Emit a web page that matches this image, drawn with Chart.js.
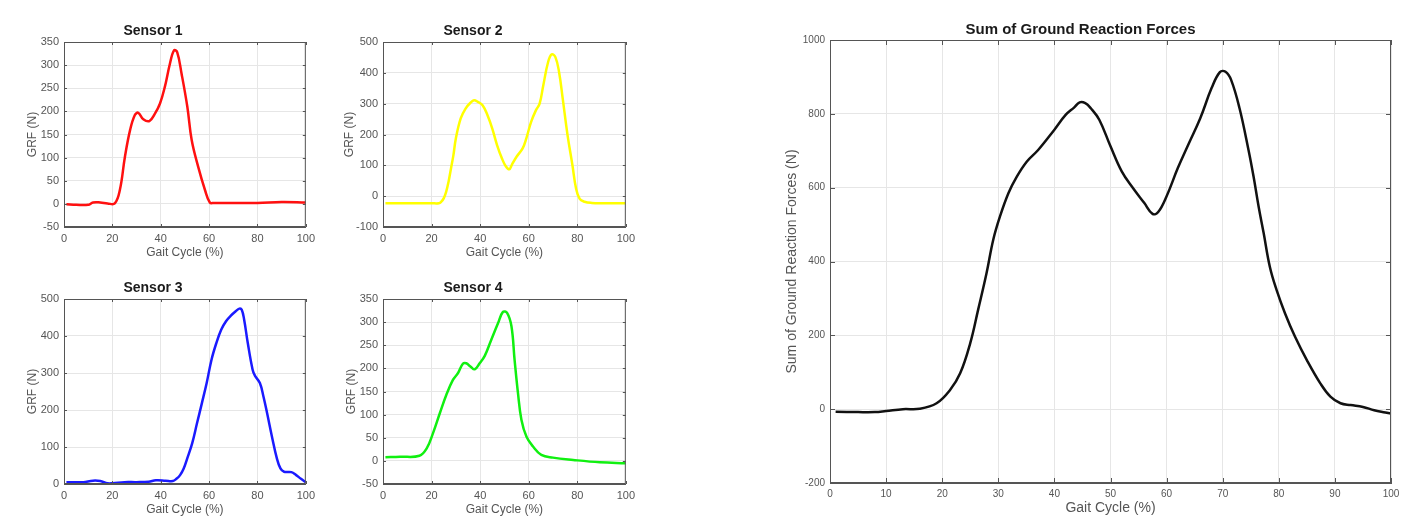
<!DOCTYPE html>
<html>
<head>
<meta charset="utf-8">
<script src="https://cdn.jsdelivr.net/npm/chart.js@4.4.1/dist/chart.umd.min.js"></script>
<style>
    body { margin: 0; background: #fff; width: 1419px; height: 517px; overflow: hidden; position: relative; }
    canvas { position: absolute; }
</style>
</head>
<body>
<canvas id="sensor1" width="320" height="250" style="left:0;top:15px"></canvas>
<canvas id="sensor2" width="320" height="250" style="left:320px;top:15px"></canvas>
<canvas id="sensor3" width="320" height="250" style="left:0;top:272px"></canvas>
<canvas id="sensor4" width="320" height="250" style="left:320px;top:272px"></canvas>
<canvas id="sumChart" width="649" height="504" style="left:770px;top:13px"></canvas>
<script>
// gait cycle (%) and GRF (N)
const sensor1X = [1, 5, 10, 12, 15, 18, 21, 23.1, 25.2, 27.3, 29.3, 30.7, 32.8, 35.3, 37.6, 39.7, 41.7, 43.8, 45.5, 46.8, 48.6, 51, 52.8, 55.5, 58.3, 60.3, 62, 70, 80, 90, 100];
const sensor1Y = [-1, -2, -2, 3, 3, 1, 1, 30, 102, 159, 192, 197, 183, 179, 195, 217, 253, 303, 332, 328, 282, 210, 138, 80, 30, 3, 2, 2, 2, 4, 3];

const sensor2X = [1, 10, 20, 23, 24, 25, 26, 27, 28, 29, 30, 32, 34, 36, 37.5, 39, 41, 43, 45, 47, 49, 50.5, 52, 53, 55, 57.5, 59, 61, 63, 64.5, 66, 68, 69.5, 71, 72.5, 74, 76, 78, 79.5, 81, 83, 86, 90, 100];
const sensor2Y = [-23, -23, -23, -23, -18, -7, 14, 47, 90, 133, 187, 252, 284, 303, 311, 306, 295, 263, 219, 165, 122, 98, 87, 101, 128, 155, 187, 241, 279, 300, 359, 435, 460, 451, 403, 317, 198, 101, 25, -9, -18, -22, -23, -23];

const sensor3X = [1, 5, 8, 12, 15, 18, 20, 25, 30, 35, 38, 42, 45, 46.5, 48, 49.5, 51, 53, 55, 57, 59, 61, 63, 65, 67, 69, 71, 72.5, 73.5, 74.5, 76, 78, 79, 81, 82.5, 84, 86, 88, 89.5, 91, 94, 96, 98, 100];
const sensor3Y = [5, 5, 5, 9, 8, 2, 2, 5, 5, 6, 10, 9, 8, 14, 24, 42, 70, 110, 164, 218, 273, 336, 381, 417, 440, 455, 467, 474, 471, 444, 381, 309, 292, 273, 236, 191, 128, 70, 42, 33, 32, 24, 14, 5];

const sensor4X = [1, 7, 15, 18, 20.6, 23.4, 26.1, 28.8, 30.9, 32.9, 34.3, 36, 37.8, 39.8, 41.9, 44.6, 47.4, 49.4, 51.1, 52.9, 54.2, 55.6, 57, 59.1, 61.8, 65.2, 70, 78.3, 89.3, 100];
const sensor4Y = [8, 9, 11, 27, 60, 103, 143, 175, 190, 210, 211, 204, 198, 211, 227, 262, 298, 322, 320, 291, 218, 146, 89, 52, 31, 13, 7, 2, -3, -5];

const sumX = [1, 5, 8, 10, 13, 16, 19, 21.4, 23.2, 25, 26.4, 27.9, 29.1, 30.3, 31.8, 33.3, 35.1, 37.1, 40, 42, 43.5, 44.5, 45.5, 46.5, 48, 50, 52, 54, 56, 57.5, 58.5, 60, 62, 64, 66, 68, 69.5, 70.5, 71.5, 73, 74.6, 75.5, 76.4, 77.3, 78.4, 79.6, 81.1, 82.9, 85, 87.4, 89.2, 91, 92.8, 95, 97, 99, 100];
const sumY = [-7, -8, -8, -5, 0, 1, 16, 52, 97, 179, 269, 368, 459, 522, 585, 630, 671, 702, 757, 797, 817, 831, 829, 815, 784, 712, 644, 599, 559, 529, 534, 577, 653, 721, 788, 869, 913, 914, 892, 815, 702, 630, 549, 477, 386, 323, 260, 196, 133, 70, 34, 16, 11, 6, -3, -9, -12];

Chart.defaults.font.family = '"Liberation Sans", Arial, sans-serif';
Chart.defaults.animation = false;

// matlab style box with inward tick marks
const boxPlugin = {
    id: "matlabBox",
    afterDraw(chart, args, opts) {
        const { ctx, chartArea: a, scales } = chart;
        const len = opts.tickLength;
        ctx.save();
        ctx.strokeStyle = "#555";
        ctx.lineWidth = 1;
        ctx.strokeRect(a.left + 0.5, a.top + 0.5, a.right - a.left - 1, a.bottom - a.top - 1);
        ctx.beginPath();
        scales.x.ticks.forEach(t => {
            const px = Math.round(scales.x.getPixelForValue(t.value)) + 0.5;
            ctx.moveTo(px, a.bottom); ctx.lineTo(px, a.bottom - len);
            ctx.moveTo(px, a.top); ctx.lineTo(px, a.top + len);
        });
        scales.y.ticks.forEach(t => {
            const py = Math.round(scales.y.getPixelForValue(t.value)) + 0.5;
            ctx.moveTo(a.left, py); ctx.lineTo(a.left + len, py);
            ctx.moveTo(a.right, py); ctx.lineTo(a.right - len, py);
        });
        ctx.stroke();
        ctx.restore();
    }
};

function toPoints(xs, ys) {
    return xs.map((x, i) => ({ x: x, y: ys[i] }));
}

function makeChart(id, s) {
    return new Chart(document.getElementById(id), {
        type: "line",
        data: {
            datasets: [{
                data: toPoints(s.xs, s.ys),
                borderColor: s.color,
                borderWidth: s.lineWidth,
                pointRadius: 0,
                tension: 0.4
            }]
        },
        plugins: [boxPlugin],
        options: {
            responsive: false,
            layout: { padding: { left: 0, right: s.padRight, top: 0, bottom: 0 } },
            plugins: {
                legend: { display: false },
                tooltip: { enabled: false },
                title: {
                    display: true,
                    text: s.title,
                    color: "#1a1a1a",
                    font: { size: s.titleSize, weight: "bold", lineHeight: 1 },
                    padding: { top: 9, bottom: 27 - 9 - s.titleSize }
                },
                matlabBox: { tickLength: s.tickLen }
            },
            scales: {
                x: {
                    type: "linear",
                    min: 0,
                    max: 100,
                    afterFit: function (scale) { scale.height = s.xHeight; },
                    ticks: { stepSize: s.xStep, color: "#555", font: { size: s.tickSize }, padding: 5, maxRotation: 0 },
                    grid: { color: "#e6e6e6", drawTicks: false },
                    border: { color: "#555" },
                    title: {
                        display: true,
                        text: "Gait Cycle (%)",
                        color: "#555",
                        font: { size: s.axisTitleSize },
                        padding: { top: 0, bottom: s.xTitlePad }
                    }
                },
                y: {
                    min: s.yMin,
                    max: s.yMax,
                    afterFit: function (scale) { scale.width = s.yWidth; },
                    ticks: { stepSize: s.yStep, color: "#555", font: { size: s.tickSize }, padding: 5, callback: v => String(v) },
                    grid: { color: "#e6e6e6", drawTicks: false },
                    border: { color: "#555" },
                    title: {
                        display: true,
                        text: s.yTitle,
                        color: "#555",
                        font: { size: s.axisTitleSize },
                        padding: { top: s.yTitlePad, bottom: 0 }
                    }
                }
            }
        }
    });
}

const sensorBase = {
    lineWidth: 2.5, padRight: 14, titleSize: 14, tickSize: 11, axisTitleSize: 12,
    tickLen: 3, xHeight: 38, xTitlePad: 5, xStep: 20, yTitle: "GRF (N)"
};

makeChart("sensor1", Object.assign({}, sensorBase, {
    title: "Sensor 1", xs: sensor1X, ys: sensor1Y, color: "#ff1010",
    yMin: -50, yMax: 350, yStep: 50, yWidth: 64, yTitlePad: 25
}));
makeChart("sensor2", Object.assign({}, sensorBase, {
    title: "Sensor 2", xs: sensor2X, ys: sensor2Y, color: "#ffff00",
    yMin: -100, yMax: 500, yStep: 100, yWidth: 63, yTitlePad: 22
}));
makeChart("sensor3", Object.assign({}, sensorBase, {
    title: "Sensor 3", xs: sensor3X, ys: sensor3Y, color: "#1a1aff",
    yMin: 0, yMax: 500, yStep: 100, yWidth: 64, yTitlePad: 25
}));
makeChart("sensor4", Object.assign({}, sensorBase, {
    title: "Sensor 4", xs: sensor4X, ys: sensor4Y, color: "#10f010",
    yMin: -50, yMax: 350, yStep: 50, yWidth: 63, yTitlePad: 24
}));
makeChart("sumChart", {
    title: "Sum of Ground Reaction Forces", xs: sumX, ys: sumY, color: "#111",
    lineWidth: 2.5, padRight: 28, titleSize: 15, tickSize: 10, axisTitleSize: 14,
    tickLen: 5, xHeight: 34, xTitlePad: 0, xStep: 10,
    yMin: -200, yMax: 1000, yStep: 200, yWidth: 60, yTitlePad: 14,
    yTitle: "Sum of Ground Reaction Forces (N)"
});
</script>
</body>
</html>
